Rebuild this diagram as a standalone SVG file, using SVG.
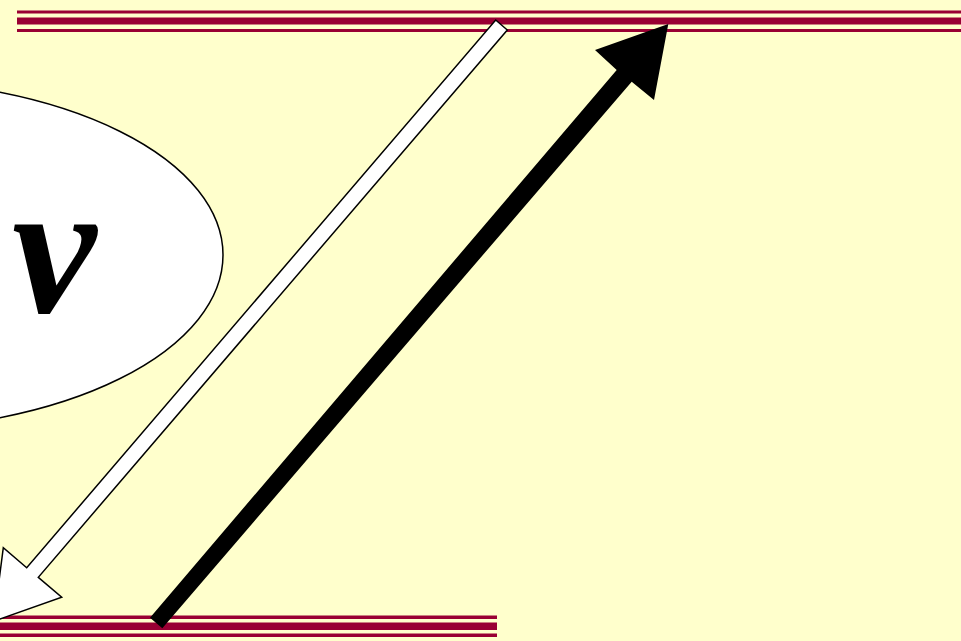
<svg xmlns="http://www.w3.org/2000/svg" width="961" height="641" viewBox="0 0 961 641">
<style>
.bar{fill:#990033}
.lbl{font-family:"Liberation Serif","Times New Roman",serif;font-style:italic;font-weight:bold;fill:#000}
</style>
<rect x="0" y="0" width="961" height="641" fill="#FFFFCC"/>
<g id="top-rule">
<rect class="bar" x="17" y="10.5" width="944" height="3"/>
<rect class="bar" x="17" y="17.5" width="944" height="7"/>
<rect class="bar" x="17" y="29" width="944" height="3"/>
</g>
<g id="bottom-rule">
<rect class="bar" x="0" y="615.5" width="497" height="3.5"/>
<rect class="bar" x="0" y="622.5" width="497" height="7.5"/>
<rect class="bar" x="0" y="633.5" width="497" height="3.5"/>
</g>
<g id="nu">
<ellipse cx="-130" cy="255" rx="353" ry="175" fill="#FFFFFF" stroke="#000" stroke-width="1.5"/>
<text class="lbl" x="12" y="312" font-size="190">ν</text>
</g>
<g id="connectors">
<polygon points="495.7,20 507.3,30 38.3,577.3 61.7,597.3 -6.2,621.2 3.3,547.7 26.7,567.7" fill="#FFFFFF" stroke="#000" stroke-width="1.5" stroke-linejoin="miter"/>
<polygon points="150,617.7 162.3,628.3 631.7,81.7 654,100 668.3,24 595,50 616.7,70" fill="#000"/>
</g>
</svg>
